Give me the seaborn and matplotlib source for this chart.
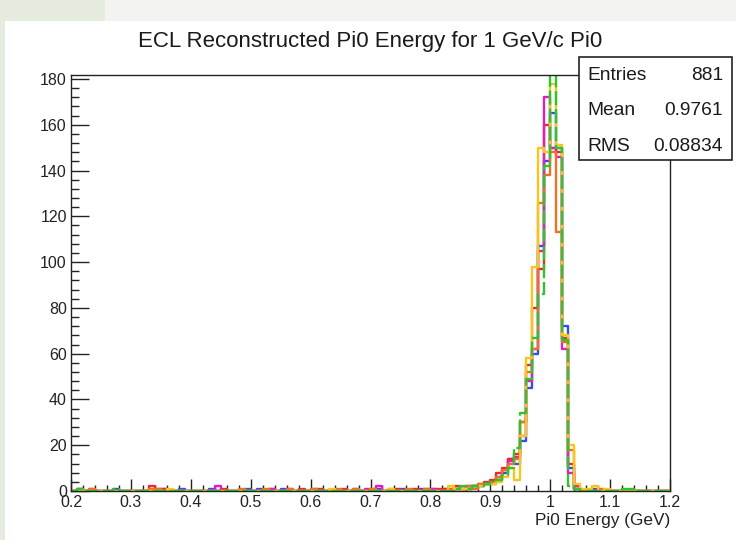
import numpy as np
import pandas as pd
import matplotlib
matplotlib.use("Agg")
import matplotlib.pyplot as plt
import seaborn as sns
from matplotlib.patches import Rectangle
from matplotlib.ticker import MultipleLocator, FuncFormatter

sns.set_style("white")
plt.rcParams["font.family"] = ["Liberation Sans", "DejaVu Sans"]

# 100 bins of 0.01 GeV between 0.2 and 1.2 GeV
bin_lo, bin_hi, n_bins = 0.2, 1.2, 100

# bin contents per sample: 0.20-0.84 tail, 0.85-1.05 peak, 1.06-1.19 high side
blue_counts = ([0,1,0,0,0,0,0,1,0,0, 0,0,0,0,0,1,0,0,1,0, 0,0,0,1,0,0,0,0,0,1,
                0,1,0,0,0,1,0,0,0,0, 1,0,0,0,0,0,0,1,0,0, 0,1,0,0,0,1,0,0,1,0,
                1,0,1,0,1]
               + [1,1,2,2,3,3,5,8,14,12,22,45,60,107,144,165,150,72,10,1,0]
               + [0,1,0,0,0,0,0,0,0,0,0,0,0,0])
red_counts = ([0,0,0,1,0,0,0,0,0,0, 0,0,0,2,1,1,0,0,0,0, 0,0,0,0,0,1,0,0,0,0,
               0,0,0,1,0,0,1,0,1,0, 0,1,0,0,0,1,0,0,0,0, 1,0,0,0,1,0,0,1,0,1,
               0,1,1,1,2]
              + [1,2,2,3,4,5,8,10,14,16,30,55,80,97,160,150,148,67,12,1,0]
              + [0,0,0,0,0,0,0,0,0,0,0,0,0,0])
magenta_counts = ([0,0,0,0,0,0,0,0,0,0, 0,0,0,0,0,0,0,0,0,0, 0,0,0,0,2,0,0,0,0,0,
                   0,0,0,1,0,0,0,0,0,0, 0,0,0,0,0,0,0,0,0,1, 0,2,0,0,0,0,0,0,0,0,
                   1,0,0,0,1]
                  + [1,1,2,2,3,4,6,9,13,15,24,48,62,105,172,150,146,62,8,2,0]
                  + [0,0,0,0,0,0,0,0,0,0,0,0,0,0])
orange_counts = ([0,1,0,1,0,0,0,0,0,0, 0,0,0,1,1,0,0,0,0,0, 0,0,0,0,0,0,0,0,1,0,
                  0,0,1,0,0,0,1,0,0,0, 1,0,0,0,1,0,0,1,0,0, 1,0,0,1,0,0,1,0,0,1,
                  0,0,0,1,1]
                 + [1,2,1,3,3,4,6,9,12,14,30,52,62,126,138,148,113,65,18,1,0]
                 + [0,0,1,0,0,0,0,0,0,0,0,0,0,0])
yellow_counts = ([0,0,0,0,0,0,0,0,0,0, 0,0,0,0,0,0,1,0,0,0, 0,0,0,0,0,0,0,0,0,0,
                  0,0,0,0,0,0,0,0,0,0, 0,0,0,1,0,0,0,0,0,0, 0,0,0,1,0,0,0,0,0,0,
                  0,0,0,2,1]
                 + [1,1,2,2,3,3,4,6,10,5,24,58,98,150,148,178,151,68,20,3,1]
                 + [1,2,0,1,0,0,0,0,0,0,0,0,0,0])
green_counts = ([0,1,0,0,0,0,0,1,0,0, 0,0,0,0,0,0,0,0,0,0, 0,0,0,0,0,0,0,0,0,0,
                 0,0,0,0,0,0,0,0,0,0, 0,0,0,0,0,0,0,0,0,0, 0,0,0,0,0,0,0,0,0,0,
                 0,0,0,0,1]
                + [2,1,2,2,3,4,5,7,10,19,34,49,67,86,142,182,150,66,2,1,0]
                + [0,0,0,0,0,0,1,1,0,0,0,0,0,0])

stat_names = ["Entries", "Mean", "RMS"]
stat_values = ["881", "0.9761", "0.08834"]

title_text = "ECL Reconstructed Pi0 Energy for 1 GeV/c Pi0"
xlabel_text = "Pi0 Energy (GeV)"

edges = np.linspace(bin_lo, bin_hi, n_bins + 1)
centers = 0.5 * (edges[:-1] + edges[1:])

samples = [
    ("blue", blue_counts, "#2f4ff0", "-"),
    ("red", red_counts, "#ea2b2b", "-"),
    ("magenta", magenta_counts, "#e21cc4", "-"),
    ("orange", orange_counts, "#f26e24", "-"),
    ("yellow", yellow_counts, "#f7c61a", "-"),
    ("green", green_counts, "#2ec42e", (0, (6, 1.6))),
]

W, H = 736, 540
fig = plt.figure(figsize=(W / 100, H / 100), dpi=100)
fig.patch.set_facecolor("white")

# page backdrop strips
fig.add_artist(Rectangle((0, 1 - 21 / H), 1, 21 / H, transform=fig.transFigure,
                         facecolor="#f3f4f1", edgecolor="none", zorder=-5))
fig.add_artist(Rectangle((0, 1 - 21 / H), 105 / W, 21 / H, transform=fig.transFigure,
                         facecolor="#e5ebdd", edgecolor="none", zorder=-4))
fig.add_artist(Rectangle((0, 0), 5 / W, 1 - 21 / H, transform=fig.transFigure,
                         facecolor="#e5ebdd", edgecolor="none", zorder=-4))

ax_l, ax_r, ax_t, ax_b = 71, 670, 75, 491
ax = fig.add_axes([ax_l / W, 1 - ax_b / H, (ax_r - ax_l) / W, (ax_b - ax_t) / H])
ax.set_facecolor("white")

for name, counts, color, ls in samples:
    df = pd.DataFrame({"energy": centers, "count": np.asarray(counts, dtype=float)})
    sns.histplot(data=df, x="energy", weights="count", bins=n_bins,
                 binrange=(bin_lo, bin_hi), element="step", fill=False,
                 color=color, linewidth=1.7, linestyle=ls, ax=ax)

ax.set_xlim(bin_lo, bin_hi)
ax.set_ylim(0, 181.75)
ax.set_xlabel("")
ax.set_ylabel("")

for sp in ax.spines.values():
    sp.set_visible(True)
    sp.set_color("#222222")
    sp.set_linewidth(1.0)

ax.xaxis.set_major_locator(MultipleLocator(0.1))
ax.xaxis.set_minor_locator(MultipleLocator(0.02))
ax.yaxis.set_major_locator(MultipleLocator(20))
ax.yaxis.set_minor_locator(MultipleLocator(4))
ax.xaxis.set_major_formatter(FuncFormatter(lambda v, p: f"{v:.1f}".rstrip("0").rstrip(".")))
ax.yaxis.set_major_formatter(FuncFormatter(lambda v, p: f"{v:.0f}"))

ax.tick_params(axis="x", which="major", direction="in", length=8.5, width=1.0,
               color="#222222", labelsize=11.5, pad=3, top=False, bottom=True)
ax.tick_params(axis="x", which="minor", direction="in", length=4, width=1.0,
               color="#222222", top=False, bottom=True)
ax.tick_params(axis="y", which="major", direction="in", length=13, width=1.0,
               color="#222222", labelsize=11.5, pad=3, left=True, right=False)
ax.tick_params(axis="y", which="minor", direction="in", length=6, width=1.0,
               color="#222222", left=True, right=False)
for lab in ax.get_xticklabels() + ax.get_yticklabels():
    lab.set_color("#222222")

fig.text(370 / W, 1 - 41 / H, title_text, ha="center", va="center",
         fontsize=16, color="#1a1a1a")
fig.text(670 / W, 1 - 521 / H, xlabel_text, ha="right", va="center",
         fontsize=12.4, color="#222222")

# statistics box
bx0, bx1, by0, by1 = 579, 732, 57, 160
fig.add_artist(Rectangle((bx0 / W, 1 - by1 / H), (bx1 - bx0) / W, (by1 - by0) / H,
                         transform=fig.transFigure, facecolor="white",
                         edgecolor="#222222", linewidth=1.2, zorder=5))
for row, (nm, val) in enumerate(zip(stat_names, stat_values)):
    yc = 75 + row * 35.8
    fig.text(587 / W, 1 - yc / H, nm, ha="left", va="center", fontsize=13.8,
             color="#1a1a1a", zorder=6)
    fig.text(723 / W, 1 - yc / H, val, ha="right", va="center", fontsize=13.8,
             color="#1a1a1a", zorder=6)

fig.savefig("out.png", dpi=100, facecolor=fig.get_facecolor())
